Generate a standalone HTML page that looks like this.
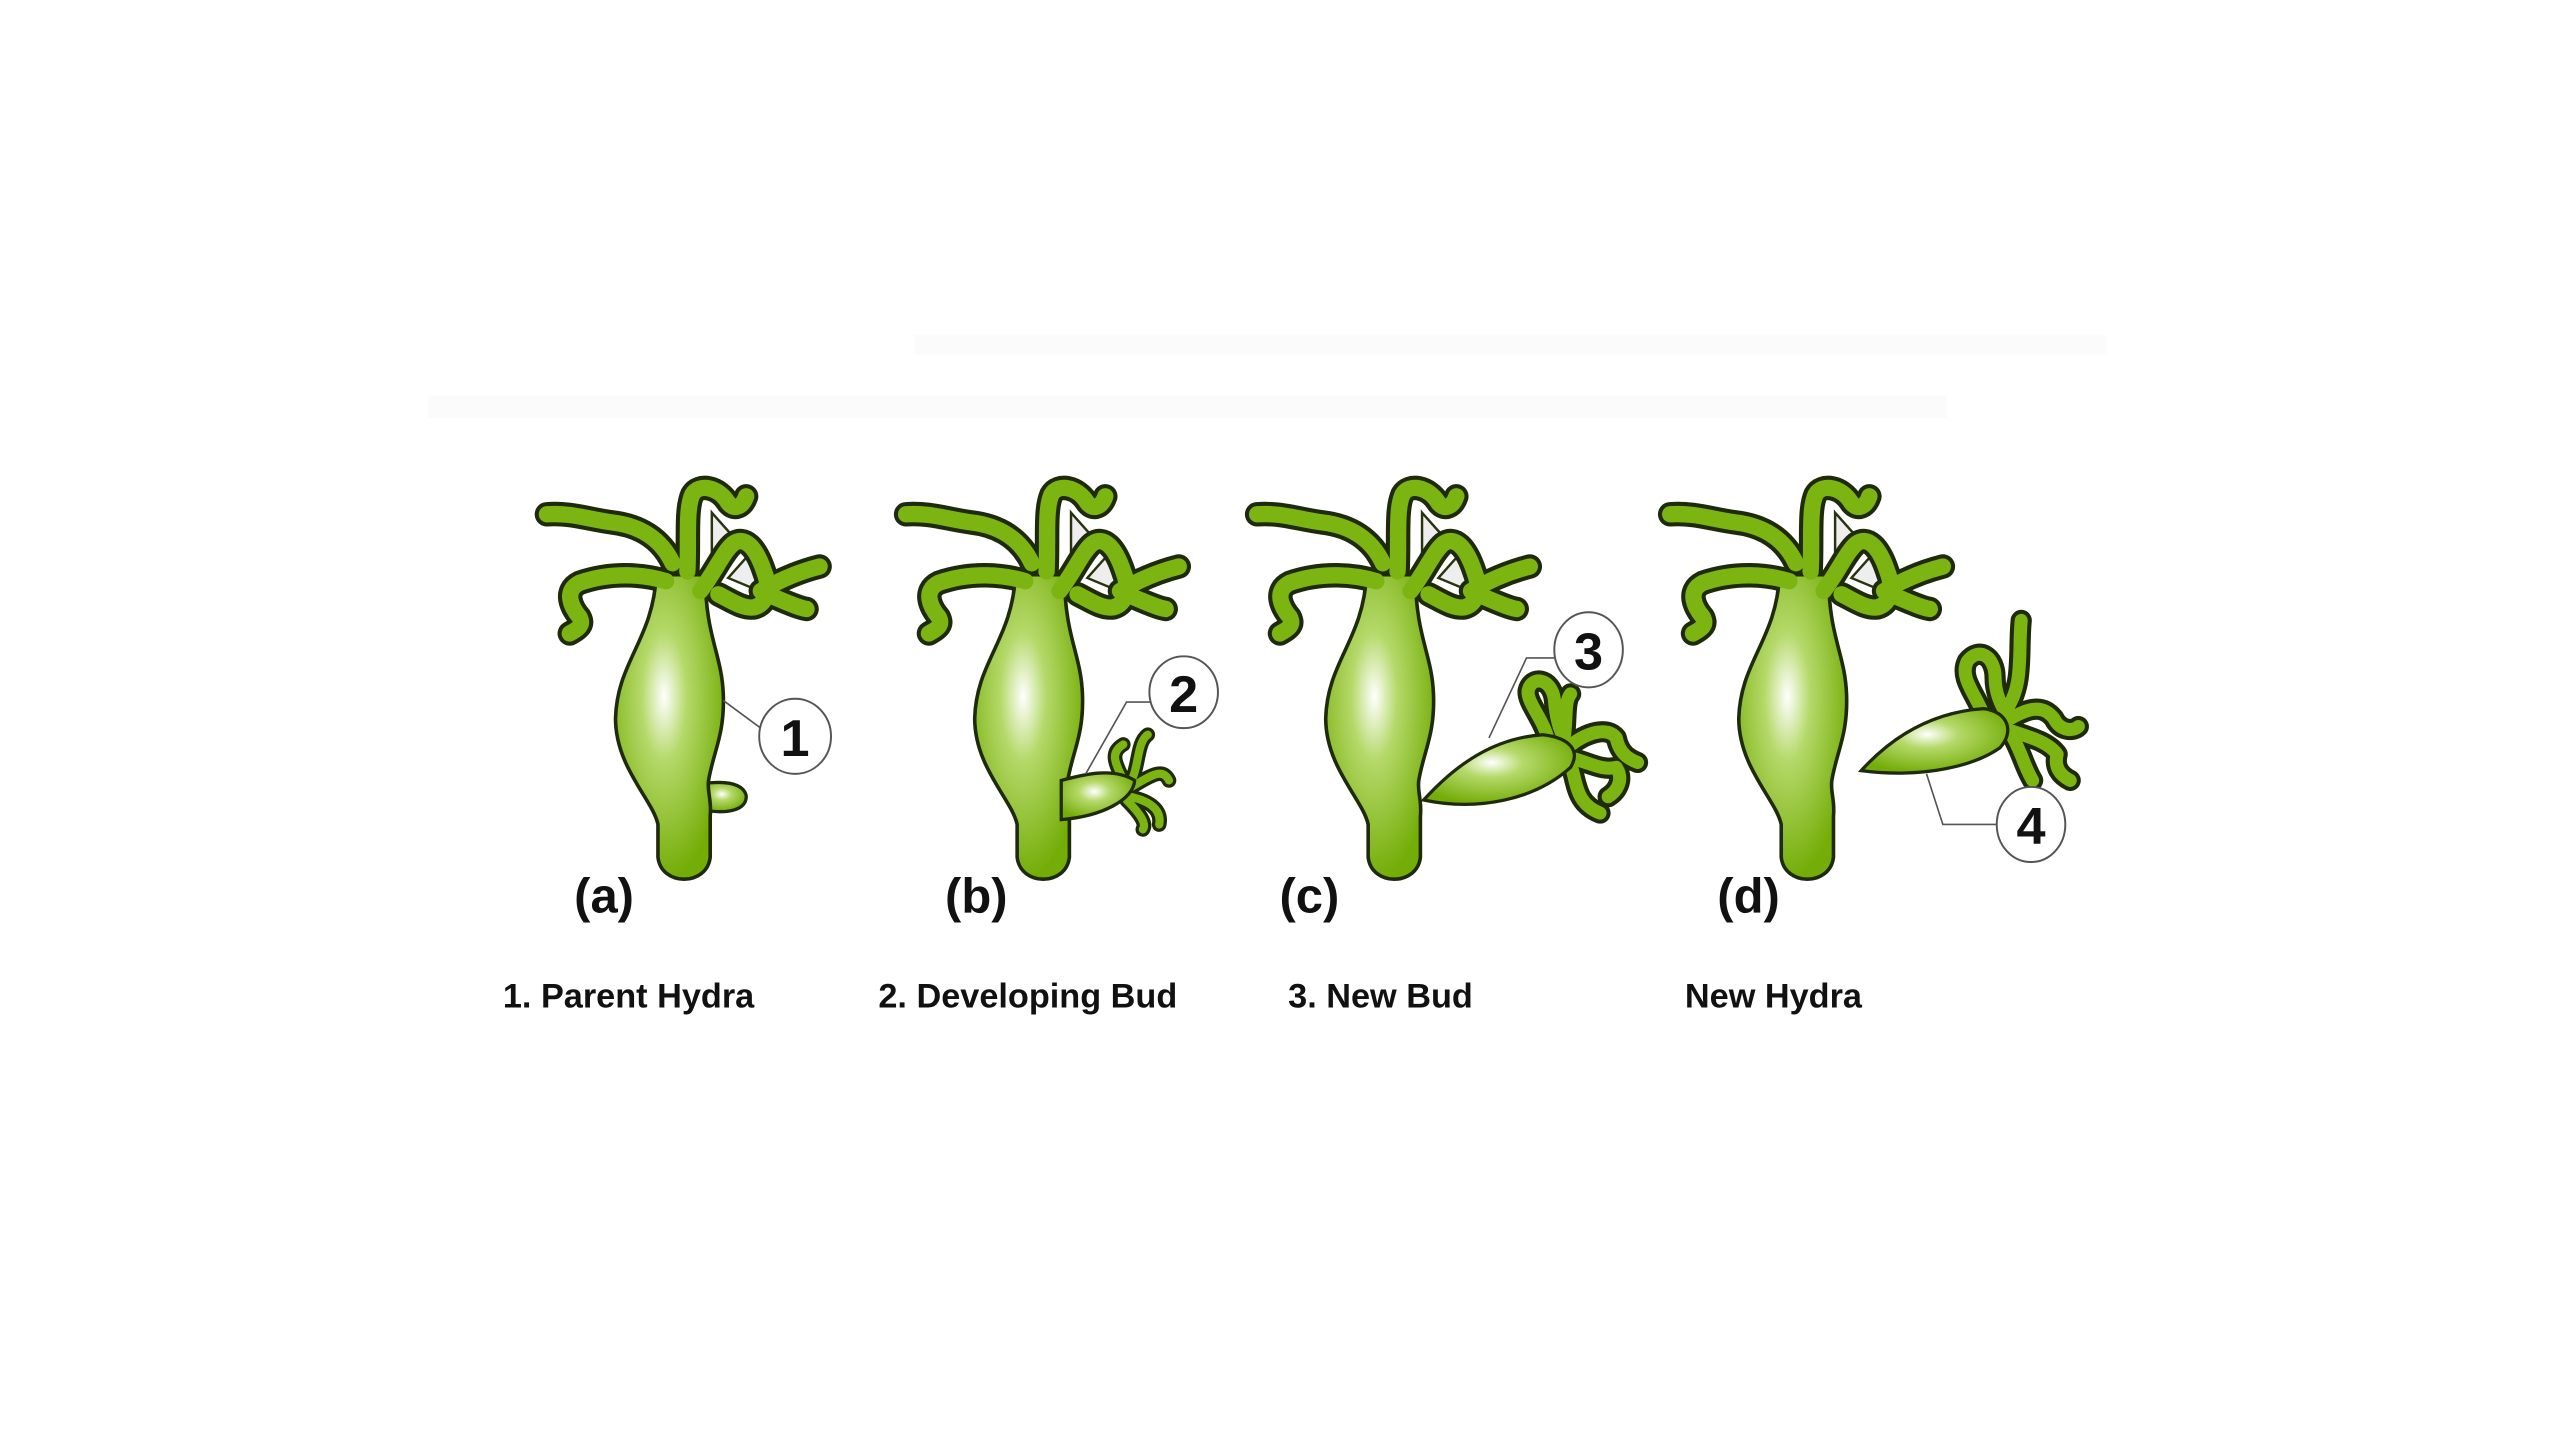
<!DOCTYPE html>
<html><head><meta charset="utf-8"><style>
html,body{margin:0;padding:0;background:#fff;width:2560px;height:1440px;overflow:hidden}
svg{display:block}
text{font-family:"Liberation Sans",sans-serif;font-weight:bold;fill:#111}
</style></head><body>
<svg width="2560" height="1440" viewBox="0 0 1568 882">
<defs>
<radialGradient id="bg" cx="0.45" cy="0.4" r="0.6">
<stop offset="0" stop-color="#ffffff"/><stop offset="0.35" stop-color="#b5d96a"/><stop offset="1" stop-color="#74ad08"/>
</radialGradient>
<g id="tents">
<path d="M412,345 C405,330 392,322 375,320 C360,318 350,314 335,315"/>
<path d="M408,356 C395,352 375,350 355,357 C345,362 350,372 355,378 C358,384 352,386 349,388"/>
<path d="M421,350 C422,330 420,312 424,303 C428,296 440,298 446,308 C450,313 455,310 457,304"/>
<path d="M429,362 C438,350 443,338 449,333 C456,328 463,335 468,350 C472,360 470,370 462,372 C455,373 448,368 440,364"/>
<path d="M466,362 C478,355 490,350 502,347 M470,364 C480,368 488,372 494,373"/>
</g>
<g id="hydra">
<path d="M436,314 L452,332 L436,356 Z M446,354 L462,336 L470,364 Z" fill="#eeeeee" stroke="#2a3310" stroke-width="1.5"/>
<use href="#tents" fill="none" stroke="#1f2a0a" stroke-width="15" stroke-linecap="round" stroke-linejoin="round"/>
<path d="M402,352 C400,392 378,405 377,440 C377,470 400,490 403,505 L403,525 C405,543 433,543 435,525 L435,500 C436,490 433,485 434,478 C437,460 444,450 443,425 C442,400 432,390 432,352 Z" fill="url(#bg)" stroke="#1f2a0a" stroke-width="2.2"/>
<use href="#tents" fill="none" stroke="#7cb412" stroke-width="10" stroke-linecap="round" stroke-linejoin="round"/>
</g>
</defs>

<g opacity="0.25">
<rect x="560" y="205" width="730" height="12" fill="#f0f0f0"/>
<rect x="262" y="242" width="930" height="14" fill="#f0f0f0"/>
</g>

<g>
<path d="M430,480 C445,478 455,480 457,487 C458,496 446,499 430,496 Z" fill="url(#bg)" stroke="#1f2a0a" stroke-width="2"/>
<use href="#hydra"/>
<line x1="443" y1="429" x2="466" y2="446" stroke="#555" stroke-width="1"/>
<ellipse cx="487" cy="451" rx="22" ry="23" fill="#fff" stroke="#555" stroke-width="1.2"/>
<text x="487" y="463" font-size="32" text-anchor="middle">1</text>
<text x="370" y="559" font-size="30" text-anchor="middle">(a)</text>
</g>

<g>
<g transform="translate(220,0)"><use href="#hydra"/></g>
<g fill="none" stroke-linecap="round" stroke-linejoin="round">
<path d="M690,482 C685,470 678,462 688,456 M692,480 C698,470 696,455 703,450 M693,482 C705,475 712,470 716,478 M692,488 C702,490 712,495 710,505 M690,490 C700,500 702,505 700,508" stroke="#1f2a0a" stroke-width="9"/>
<path d="M690,482 C685,470 678,462 688,456 M692,480 C698,470 696,455 703,450 M693,482 C705,475 712,470 716,478 M692,488 C702,490 712,495 710,505 M690,490 C700,500 702,505 700,508" stroke="#7cb412" stroke-width="5"/>
</g>
<path d="M650,478 C665,474 682,470 695,478 C694,490 675,500 650,502 Z" fill="url(#bg)" stroke="#1f2a0a" stroke-width="2"/>
<polyline points="665,474 690,430 705,430" fill="none" stroke="#555" stroke-width="1"/>
<ellipse cx="725" cy="424" rx="21" ry="22" fill="#fff" stroke="#555" stroke-width="1.2"/>
<text x="725" y="436" font-size="32" text-anchor="middle">2</text>
<text x="598" y="559" font-size="30" text-anchor="middle">(b)</text>
</g>

<g>
<g transform="translate(435,0)"><use href="#hydra"/></g>
<g fill="none" stroke-linecap="round" stroke-linejoin="round">
<path d="M948,452 C945,440 935,430 936,423 C938,414 950,415 952,428 C953,440 955,447 958,452 M958,452 C960,440 958,430 962,425 M960,458 C972,448 985,445 990,452 C992,462 998,465 1003,467 M962,468 C966,480 965,492 980,498 M965,465 C975,468 982,472 990,470 C995,478 990,485 985,488" stroke="#1f2a0a" stroke-width="13"/>
<path d="M948,452 C945,440 935,430 936,423 C938,414 950,415 952,428 C953,440 955,447 958,452 M958,452 C960,440 958,430 962,425 M960,458 C972,448 985,445 990,452 C992,462 998,465 1003,467 M962,468 C966,480 965,492 980,498 M965,465 C975,468 982,472 990,470 C995,478 990,485 985,488" stroke="#7cb412" stroke-width="8"/>
</g>
<path d="M872,490 C892,468 915,452 945,450 C962,452 968,460 962,470 C940,490 905,497 872,490 Z" fill="url(#bg)" stroke="#1f2a0a" stroke-width="2"/>
<polyline points="912,452 935,403 953,403" fill="none" stroke="#555" stroke-width="1"/>
<ellipse cx="973" cy="398" rx="21" ry="23" fill="#fff" stroke="#555" stroke-width="1.2"/>
<text x="973" y="410" font-size="32" text-anchor="middle">3</text>
<text x="802" y="559" font-size="30" text-anchor="middle">(c)</text>
</g>

<g>
<g transform="translate(688,0)"><use href="#hydra"/></g>
<g fill="none" stroke-linecap="round" stroke-linejoin="round">
<path d="M1215,438 C1210,425 1200,415 1205,405 C1212,396 1222,402 1222,415 C1222,425 1226,432 1228,436 M1228,436 C1240,420 1236,400 1238,380 M1228,442 C1240,435 1250,430 1258,440 C1262,448 1270,448 1273,445 M1232,450 C1238,460 1240,470 1245,478 M1233,448 C1245,452 1255,455 1260,462 C1258,470 1262,475 1268,478" stroke="#1f2a0a" stroke-width="13"/>
<path d="M1215,438 C1210,425 1200,415 1205,405 C1212,396 1222,402 1222,415 C1222,425 1226,432 1228,436 M1228,436 C1240,420 1236,400 1238,380 M1228,442 C1240,435 1250,430 1258,440 C1262,448 1270,448 1273,445 M1232,450 C1238,460 1240,470 1245,478 M1233,448 C1245,452 1255,455 1260,462 C1258,470 1262,475 1268,478" stroke="#7cb412" stroke-width="8"/>
</g>
<path d="M1140,472 C1160,450 1185,436 1215,434 C1230,436 1234,448 1225,458 C1205,472 1170,476 1140,472 Z" fill="url(#bg)" stroke="#1f2a0a" stroke-width="2"/>
<polyline points="1180,474 1190,505 1224,505" fill="none" stroke="#555" stroke-width="1"/>
<ellipse cx="1244" cy="505" rx="21" ry="23" fill="#fff" stroke="#555" stroke-width="1.2"/>
<text x="1244" y="517" font-size="32" text-anchor="middle">4</text>
<text x="1071" y="559" font-size="30" text-anchor="middle">(d)</text>
</g>

<g>
<text x="308" y="617" font-size="21">1. Parent Hydra</text>
<text x="538" y="617" font-size="21">2. Developing Bud</text>
<text x="789" y="617" font-size="21">3. New Bud</text>
<text x="1032" y="617" font-size="21">New Hydra</text>
</g>
</svg>
</body></html>
